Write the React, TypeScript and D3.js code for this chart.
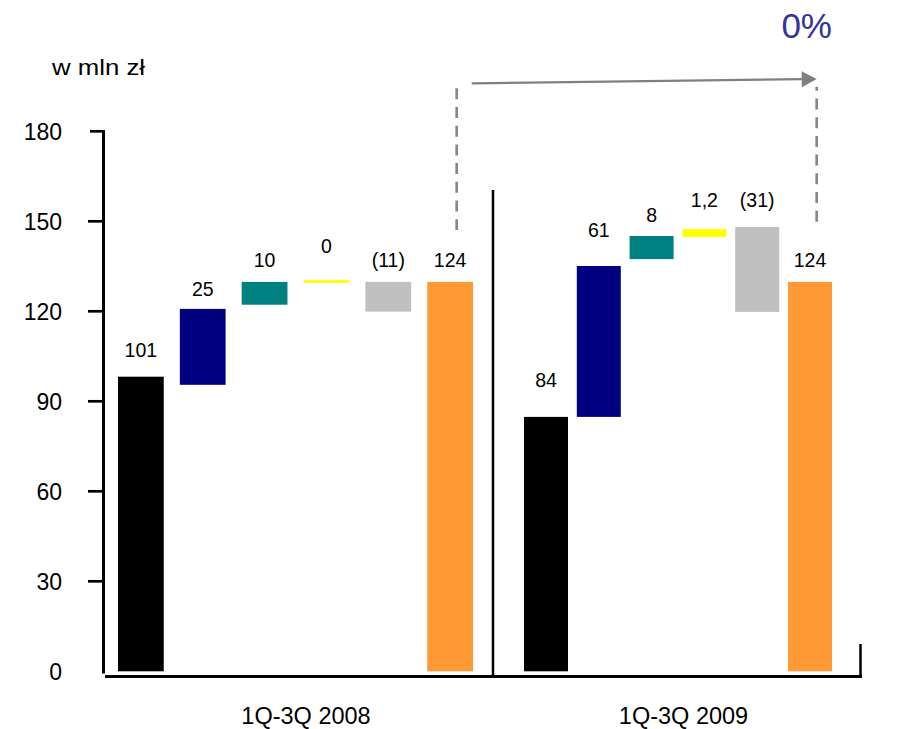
import React from "react";
import * as d3 from "d3";

const groups = ["1Q-3Q 2008", "1Q-3Q 2009"];
const barColors = ["#000000", "#000080", "#008080", "#FFFF00", "#C0C0C0", "#FF9933"];

const labels2008 = ["101", "25", "10", "0", "(11)", "124"];
const bottoms2008 = [0, 95.5, 122.2, 129.5, 119.9, 0];
const tops2008 = [98.2, 120.8, 129.8, 130.4, 129.8, 129.8];
const labelAt2008 = [104.9, 125.1, 134.9, 139.5, 134.9, 134.9];

const labels2009 = ["84", "61", "8", "1,2", "(31)", "124"];
const bottoms2009 = [0, 84.8, 137.4, 144.8, 119.8, 0];
const tops2009 = [84.8, 135.1, 145.1, 147.4, 148.1, 129.8];
const labelAt2009 = [94.9, 144.7, 149.9, 154.9, 154.9, 134.9];

const yTicks = [30, 60, 90, 120, 150, 180];
const yTickLabels = [0, 30, 60, 90, 120, 150, 180];
const unitLabel = "w mln zł";
const changeLabel = "0%";

const FONT = "'Liberation Sans', Arial, sans-serif";

export default function App() {
  const y = d3.scaleLinear().domain([0, 180]).range([671.3, 131.3]);
  const idx = d3.range(6);
  const x2008 = d3.scaleBand<number>().domain(idx).range([118, 473]).paddingInner(0.26).paddingOuter(0);
  const x2009 = d3.scaleBand<number>().domain(idx).range([524, 832]).paddingInner(0.1667).paddingOuter(0);

  const series = [
    { x: x2008, labels: labels2008, bottoms: bottoms2008, tops: tops2008, labelAt: labelAt2008 },
    { x: x2009, labels: labels2009, bottoms: bottoms2009, tops: tops2009, labelAt: labelAt2009 },
  ];

  const axisX = 103.5;
  const groupCenters = [306, 683.5];

  // arrow geometry
  const ax1 = 471.7, ay1 = 83.3, ax2 = 816.7, ay2 = 79;
  const ang = Math.atan2(ay2 - ay1, ax2 - ax1);
  const hl = 15, hw = 8;
  const bx = ax2 - hl * Math.cos(ang), by = ay2 - hl * Math.sin(ang);
  const head = [
    [ax2, ay2],
    [bx - hw * Math.sin(ang), by + hw * Math.cos(ang)],
    [bx + hw * Math.sin(ang), by - hw * Math.cos(ang)],
  ];

  return (
    <svg
      width={911}
      height={729}
      style={{ position: "absolute", left: 0, top: 0, background: "#fff" }}
      fontFamily={FONT}
    >
      <rect x={0} y={0} width={911} height={729} fill="#fff" />

      {/* unit label */}
      <text x={52} y={75} fontSize={22} textLength={93} lengthAdjust="spacingAndGlyphs" fill="#000">
        {unitLabel}
      </text>

      {/* y axis */}
      <line x1={axisX} x2={axisX} y1={y(180) - 1.3} y2={673.5} stroke="#000" strokeWidth={3} />
      {yTicks.map((t) => (
        <line key={t} x1={t === 180 ? 90 : 88} x2={axisX} y1={y(t)} y2={y(t)} stroke="#000" strokeWidth={2.7} />
      ))}
      {yTickLabels.map((t) => (
        <text key={t} x={62} y={y(t)} dy="0.36em" fontSize={23} textAnchor="end" fill="#000">
          {t}
        </text>
      ))}

      {/* baseline */}
      <line x1={105} x2={862} y1={676.5} y2={676.5} stroke="#000" strokeWidth={3} />
      <line x1={860.5} x2={860.5} y1={644} y2={678} stroke="#000" strokeWidth={2.5} />
      {/* divider */}
      <line x1={493} x2={493} y1={190} y2={677} stroke="#000" strokeWidth={2.5} />

      {/* bars */}
      {series.map((s, gi) =>
        idx.map((i) => {
          const x0 = s.x(i)!;
          const bw = s.x.bandwidth();
          return (
            <g key={`${gi}-${i}`}>
              <rect
                x={x0}
                width={bw}
                y={y(s.tops[i])}
                height={y(s.bottoms[i]) - y(s.tops[i])}
                fill={barColors[i]}
              />
              <text
                x={x0 + bw / 2}
                y={y(s.labelAt[i])}
                fontSize={19.5}
                textAnchor="middle"
                fill="#000"
              >
                {s.labels[i]}
              </text>
            </g>
          );
        })
      )}

      {/* category labels */}
      {groups.map((g, i) => (
        <text key={g} x={groupCenters[i]} y={724} fontSize={23.5} textAnchor="middle" fill="#000">
          {g}
        </text>
      ))}

      {/* dashed connectors */}
      <line x1={456.7} x2={456.7} y1={88.3} y2={230} stroke="#888" strokeWidth={2.7} strokeDasharray="11 7.7" />
      <line x1={816.7} x2={816.7} y1={221.7} y2={86.7} stroke="#888" strokeWidth={2.7} strokeDasharray="11 7.7" />

      {/* arrow */}
      <line x1={ax1} y1={ay1} x2={bx} y2={by} stroke="#808080" strokeWidth={2.2} />
      <polygon points={head.map((p) => p.join(",")).join(" ")} fill="#808080" />

      {/* change label */}
      <text x={832} y={38.3} fontSize={35} textAnchor="end" fill="#333399">
        {changeLabel}
      </text>
    </svg>
  );
}
